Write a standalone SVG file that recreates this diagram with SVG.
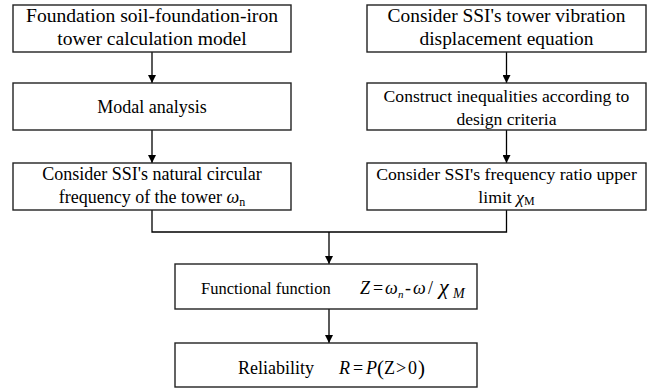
<svg xmlns="http://www.w3.org/2000/svg" width="651" height="390" viewBox="0 0 651 390">
<defs>
<marker id="ah" viewBox="0 0 10 10" refX="10" refY="5" markerWidth="8" markerHeight="8" markerUnits="userSpaceOnUse" orient="auto">
<path d="M0,0 L10,5 L0,10 Z" fill="#000"/>
</marker>
<style>
.box{fill:#fff;stroke:#222;stroke-width:1.4}
.c{fill:none;stroke:#000;stroke-width:1.3}
</style>
</defs>
<rect width="651" height="390" fill="#fff"/>
<g id="connectors">
<line class="c" x1="152" y1="52" x2="152" y2="83" marker-end="url(#ah)"/>
<line class="c" x1="152" y1="130" x2="152" y2="163" marker-end="url(#ah)"/>
<line class="c" x1="506.5" y1="52" x2="506.5" y2="83" marker-end="url(#ah)"/>
<line class="c" x1="506.5" y1="130" x2="506.5" y2="163" marker-end="url(#ah)"/>
<polyline class="c" points="152,210 152,232 506.5,232 506.5,210"/>
<line class="c" x1="329" y1="232" x2="329" y2="264" marker-end="url(#ah)"/>
<line class="c" x1="329" y1="309" x2="329" y2="343" marker-end="url(#ah)"/>
</g>
<g font-family="Liberation Serif, Times New Roman, DejaVu Serif, serif" font-size="18" fill="#000">
<g id="n1" text-anchor="middle">
<rect class="box" x="13" y="5" width="278" height="47"/>
<text x="152" y="22" font-size="19.6">Foundation soil-foundation-iron</text>
<text x="152" y="45" font-size="19.6">tower calculation model</text>
</g>
<g id="n2" text-anchor="middle">
<rect class="box" x="13" y="83" width="278" height="47"/>
<text x="152" y="113">Modal analysis</text>
</g>
<g id="n3" text-anchor="middle">
<rect class="box" x="13" y="163" width="278" height="47"/>
<text x="152" y="180">Consider SSI's natural circular</text>
<text x="152" y="203">frequency of the tower <tspan font-style="italic">ω</tspan><tspan font-size="12" dy="3">n</tspan></text>
</g>
<g id="n4" text-anchor="middle">
<rect class="box" x="367" y="5" width="279" height="47"/>
<text x="506.5" y="22" font-size="19.4">Consider SSI's tower vibration</text>
<text x="506.5" y="45" font-size="19.4">displacement equation</text>
</g>
<g id="n5" text-anchor="middle">
<rect class="box" x="367" y="83" width="279" height="47"/>
<text x="506.5" y="102" font-size="17.6">Construct inequalities according to</text>
<text x="506.5" y="124.5" font-size="17.6">design criteria</text>
</g>
<g id="n6" text-anchor="middle">
<rect class="box" x="367" y="163" width="279" height="47"/>
<text x="506.5" y="180" font-size="17.7">Consider SSI's frequency ratio upper</text>
<text x="506.5" y="203" font-size="17.7">limit <tspan font-style="italic">χ</tspan><tspan font-size="12" dy="2">M</tspan></text>
</g>
<g id="n7">
<rect class="box" x="175" y="264" width="302" height="45"/>
<text x="201" y="294" font-size="16.5">Functional function</text>
<text y="294"><tspan font-style="italic" x="360">Z</tspan><tspan x="373">=</tspan><tspan font-style="italic" x="385">ω</tspan><tspan font-style="italic" font-size="11" x="398" dy="4">n</tspan><tspan x="405" dy="-4">-</tspan><tspan font-style="italic" x="413">ω</tspan><tspan x="428">/</tspan><tspan font-style="italic" font-size="22" x="439">χ</tspan><tspan font-style="italic" font-size="14" x="453" dy="4">M</tspan></text>
</g>
<g id="n8">
<rect class="box" x="175" y="343" width="302" height="44"/>
<text x="238" y="374">Reliability</text>
<text y="374"><tspan font-style="italic" x="339">R</tspan><tspan x="353">=</tspan><tspan font-style="italic" x="366">P</tspan><tspan x="377" font-size="21" dy="1">(</tspan><tspan x="384" dy="-1">Z</tspan><tspan x="396">&gt;</tspan><tspan x="408">0</tspan><tspan x="418" font-size="21" dy="1">)</tspan></text>
</g>
</g>
</svg>
